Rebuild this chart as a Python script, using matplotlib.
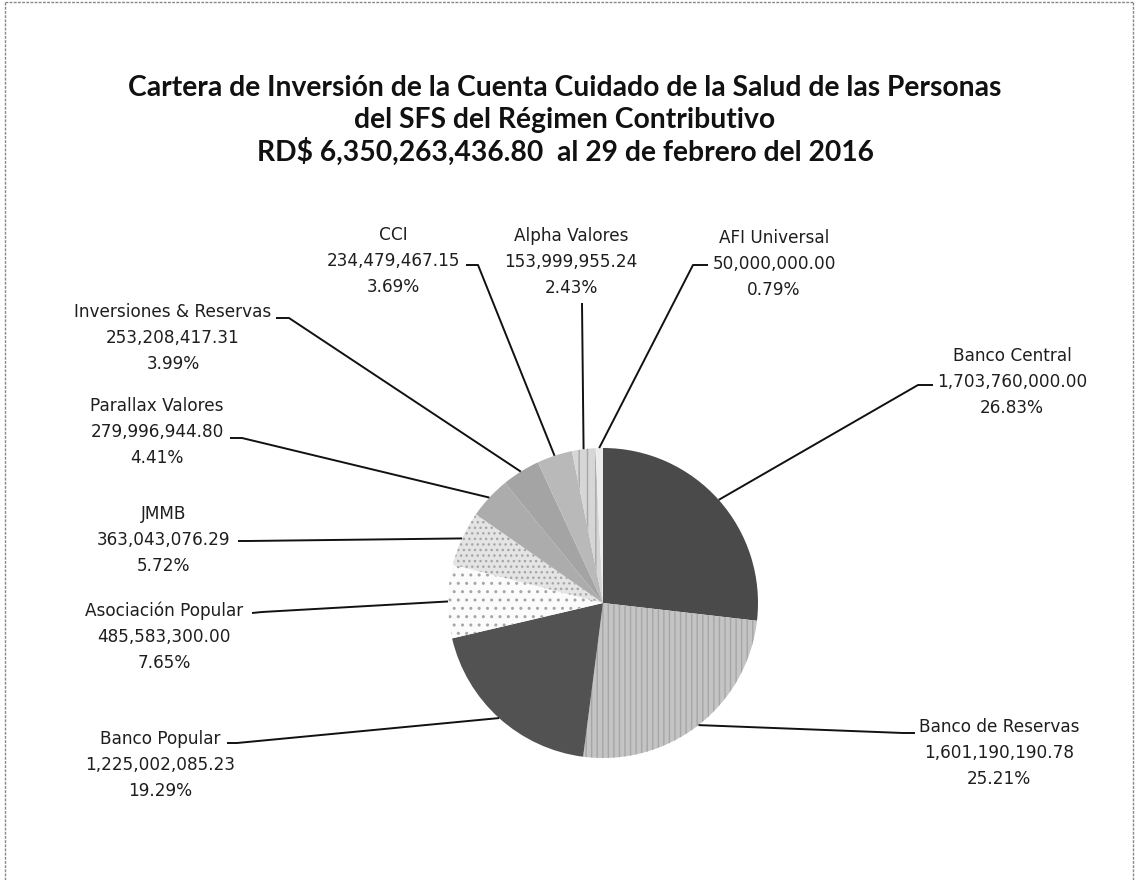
import matplotlib.pyplot as plt
from matplotlib.lines import Line2D
import numpy as np

# Datos de la cartera (RD$), en el orden del gráfico (sentido horario desde las 12)
entidades = ["Banco Central", "Banco de Reservas", "Banco Popular", "Asociación Popular", "JMMB",
             "Parallax Valores", "Inversiones & Reservas", "CCI", "Alpha Valores", "AFI Universal"]
montos = [1703760000.00, 1601190190.78, 1225002085.23, 485583300.00, 363043076.29,
          279996944.80, 253208417.31, 234479467.15, 153999955.24, 50000000.00]
titulo = ["Cartera de Inversión de la Cuenta Cuidado de la Salud de las Personas",
          "del SFS del Régimen Contributivo",
          "RD$ 6,350,263,436.80  al 29 de febrero del 2016"]

# Estilo de cada porción (tonos de gris como el original escaneado)
colores = ["#4a4a4a", "#c4c4c4", "#525252", "#fbfbfb", "#e4e4e4",
           "#acacac", "#a4a4a4", "#b9b9b9", "#d6d6d6", "#ececec"]
tramas = [None, "|||", None, "..", "...", None, None, None, "||", None]
separar = [0, 0, 0.03, 0, 0, 0, 0, 0, 0, 0]

# Posición de cada etiqueta (px de la imagen): centro de la línea del monto y puntos del conector
etiquetas = [
    (1012, 382, [(933, 385), (918, 385)]),
    (999, 753, [(915, 733), (903, 733)]),
    (160, 765, [(227, 743), (237, 743)]),
    (164, 637, [(252, 613), (262, 612)]),
    (164, 540, [(238, 541), (248, 541)]),
    (157, 432, [(230, 438), (242, 438)]),
    (173, 338, [(276, 318), (289, 318)]),
    (393, 261, [(466, 265), (478, 265)]),
    (571, 262, [(582, 303)]),
    (774, 264, [(708, 265), (693, 265)]),
]

W, H = 1137, 880
Y = lambda y: H - y
centro = (603, Y(603))
radio = 155

fig = plt.figure(figsize=(W / 100, H / 100), dpi=100)
ax = fig.add_axes([0, 0, 1, 1])

total = sum(montos)
wedges, _ = ax.pie(montos, colors=colores, startangle=90, counterclock=False,
                   center=centro, radius=radio, explode=separar,
                   wedgeprops=dict(linewidth=0), frame=True)
ax.set_xlim(0, W)
ax.set_ylim(0, H)
ax.set_aspect("equal")
ax.axis("off")

for w, trama in zip(wedges, tramas):
    if trama:
        w.set_hatch(trama)
        w.set_edgecolor("#a6a6a6")
        w.set_linewidth(0)

fuente = "DejaVu Sans"
paso = 26
for w, nombre, monto, (tx, ty, puntos) in zip(wedges, entidades, montos, etiquetas):
    lineas = [nombre, f"{monto:,.2f}", f"{monto / total * 100:.2f}%"]
    for k, linea in enumerate(lineas):
        ax.text(tx, Y(ty + (k - 1) * paso), linea, ha="center", va="center",
                fontsize=12.2, family=fuente, color="#1e1e1e")
    ang = np.deg2rad((w.theta1 + w.theta2) / 2)
    cx, cy = w.center
    px = cx + w.r * np.cos(ang)
    py = cy + w.r * np.sin(ang)
    xs = [p[0] for p in puntos] + [px]
    ys = [Y(p[1]) for p in puntos] + [py]
    ax.plot(xs, ys, color="#111111", linewidth=1.4, solid_capstyle="butt")

for i, linea in enumerate(titulo):
    ax.text(565, Y(88 + 32 * i), linea, ha="center", va="center", fontsize=20.3,
            family="Lato", fontweight="bold", color="#111111")

# Marco del gráfico
borde = dict(color="#888888", linewidth=1, linestyle=(0, (2, 1)))
fig.add_artist(Line2D([5 / W, 5 / W], [0, 1 - 2 / H], **borde))
fig.add_artist(Line2D([5 / W, 1133 / W], [1 - 2 / H, 1 - 2 / H], **borde))
fig.add_artist(Line2D([1133 / W, 1133 / W], [0, 1 - 2 / H], **borde))

fig.savefig("out.png", dpi=100, facecolor="white")
